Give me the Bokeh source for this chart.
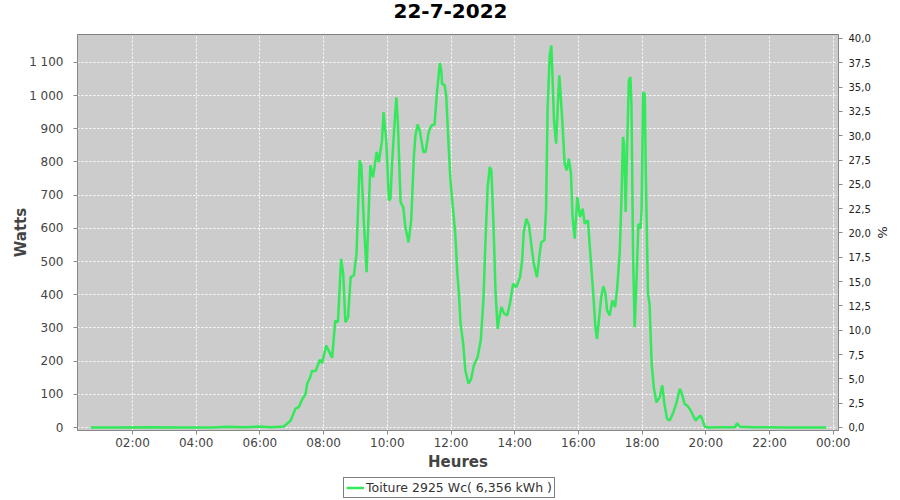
from bokeh.plotting import figure
from bokeh.layouts import column
from bokeh.models import Range1d, LinearAxis, FixedTicker, Legend, LegendItem, Title
from bokeh.embed import file_html
from bokeh.resources import INLINE

# ---- data ----
times = ["00:41", "01:30", "02:30", "03:30", "04:30", "05:00", "05:30", "06:00", "06:20", "06:45",
         "06:58", "07:07", "07:13", "07:20", "07:26", "07:29", "07:35", "07:38", "07:45", "07:53",
         "07:57", "08:05", "08:16", "08:22", "08:27", "08:33", "08:37", "08:41", "08:46", "08:51",
         "08:57", "09:02", "09:08", "09:11", "09:16", "09:21", "09:23", "09:28", "09:33", "09:40",
         "09:44", "09:50", "09:53", "09:58", "10:03", "10:06", "10:09", "10:14", "10:17", "10:20",
         "10:25", "10:30", "10:34", "10:40", "10:45", "10:50", "10:53", "10:57", "11:01", "11:08",
         "11:12", "11:18", "11:23", "11:29", "11:33", "11:39", "11:42", "11:43", "11:48", "11:51",
         "11:55", "11:59", "12:04", "12:08", "12:12", "12:15", "12:18", "12:23", "12:27", "12:33",
         "12:38", "12:43", "12:50", "12:56", "13:01", "13:05", "13:09", "13:13", "13:16", "13:20",
         "13:24", "13:28", "13:30", "13:35", "13:40", "13:46", "13:51", "13:57", "14:03", "14:10",
         "14:14", "14:17", "14:22", "14:27", "14:31", "14:36", "14:42", "14:47", "14:50", "14:56",
         "14:59", "15:02", "15:06", "15:09", "15:11", "15:14", "15:18", "15:21", "15:24", "15:26",
         "15:30", "15:34", "15:38", "15:42", "15:46", "15:49", "15:53", "15:58", "16:03", "16:08",
         "16:12", "16:18", "16:22", "16:28", "16:32", "16:35", "16:38", "16:43", "16:47", "16:51",
         "16:54", "16:59", "17:04", "17:09", "17:13", "17:18", "17:21", "17:24", "17:26", "17:29",
         "17:32", "17:35", "17:38", "17:40", "17:43", "17:46", "17:49", "17:53", "17:57", "17:59",
         "18:02", "18:05", "18:07", "18:11", "18:14", "18:18", "18:22", "18:27", "18:33", "18:38",
         "18:42", "18:47", "18:52", "18:59", "19:05", "19:11", "19:15", "19:20", "19:25", "19:31",
         "19:36", "19:41", "19:45", "19:50", "19:53", "19:58", "20:05", "20:30", "20:55", "20:59",
         "21:04", "21:30", "22:00", "22:30", "23:00", "23:47"]
watts = [0, 0, 1, 0, 0, 2, 1, 3, 1, 3,
         21, 57, 61, 86, 101, 132, 152, 170, 170, 204,
         194, 247, 210, 322, 317, 508, 463, 317, 332, 453,
         458, 523, 805, 790, 614, 468, 564, 790, 754, 830,
         800, 865, 950, 865, 684, 689, 795, 925, 995, 915,
         679, 664, 604, 558, 624, 815, 880, 913, 895, 830,
         830, 890, 910, 913, 1000, 1098, 1071, 1036, 1031, 1000,
         865, 744, 654, 584, 463, 403, 313, 252, 172, 132,
         147, 187, 212, 262, 383, 564, 724, 785, 775, 614,
         403, 297, 322, 363, 343, 338, 373, 433, 423, 453,
         503, 589, 629, 609, 554, 493, 453, 523, 558, 564,
         654, 965, 1121, 1151, 1066, 925, 855, 965, 1061, 1016,
         915, 795, 775, 810, 765, 634, 569, 694, 634, 659,
         614, 624, 533, 403, 302, 267, 313, 393, 425, 403,
         353, 338, 383, 363, 418, 533, 684, 875, 855, 649,
         855, 1046, 1056, 965, 513, 302, 423, 614, 599, 654,
         1010, 1005, 765, 403, 373, 192, 121, 76, 91, 127,
         71, 26, 21, 46, 76, 117, 101, 71, 66, 53,
         36, 21, 29, 36, 26, 3, 0, 1, 1, 13,
         2, 1, 1, 0, 0, 0]

hour_ticks = [2, 4, 6, 8, 10, 12, 14, 16, 18, 20, 22, 24]
hour_labels = ["02:00", "04:00", "06:00", "08:00", "10:00", "12:00",
               "14:00", "16:00", "18:00", "20:00", "22:00", "00:00"]
watt_ticks = [0, 100, 200, 300, 400, 500, 600, 700, 800, 900, 1000, 1100]
watt_labels = ["0", "100", "200", "300", "400", "500", "600", "700", "800", "900", "1 000", "1 100"]
pct_ticks = [0, 2.5, 5, 7.5, 10, 12.5, 15, 17.5, 20, 22.5, 25, 27.5, 30, 32.5, 35, 37.5, 40]
pct_labels = ["0,0", "2,5", "5,0", "7,5", "10,0", "12,5", "15,0", "17,5", "20,0", "22,5",
              "25,0", "27,5", "30,0", "32,5", "35,0", "37,5", "40,0"]

title_text = "22-7-2022"
series_label = "Toiture 2925 Wc( 6,356 kWh )"

hours = [int(t[:2]) + int(t[3:]) / 60 for t in times]

FONT = "DejaVu Sans"
GREEN = "#33e85a"

p = figure(width=900, height=474, output_backend="svg", toolbar_location=None,
           x_range=Range1d(0.273, 24.166), y_range=Range1d(-9, 1184),
           min_border_left=77, min_border_right=62, min_border_top=34, min_border_bottom=44)
p.extra_y_ranges = {"pct": Range1d(-0.31, 40.41)}

p.title.text = title_text
p.title.align = "left"
p.title.offset = 316
p.title.vertical_align = "bottom"
p.title.text_font = FONT
p.title.text_font_size = "20px"
p.title.text_font_style = "bold"
p.title.text_color = "#000000"
p.title.standoff = 0
# empty spacer between the title and the plot area
p.add_layout(Title(text=" ", text_font_size="10px", standoff=4), "above")

p.background_fill_color = "#cccccc"
p.border_fill_color = "#ffffff"
p.outline_line_color = "#808080"
p.outline_line_width = 1

# grid
p.xgrid.grid_line_color = "#ffffff"
p.ygrid.grid_line_color = "#ffffff"
p.xgrid.grid_line_dash = "2 2"
p.ygrid.grid_line_dash = "2 2"
p.xgrid.grid_line_width = 1
p.ygrid.grid_line_width = 1

# x axis
xa = p.xaxis[0]
xa.ticker = FixedTicker(ticks=hour_ticks)
xa.major_label_overrides = dict(zip(hour_ticks, hour_labels))
xa.axis_label = "Heures"
# y axis
ya = p.yaxis[0]
ya.ticker = FixedTicker(ticks=watt_ticks)
ya.major_label_overrides = dict(zip(watt_ticks, watt_labels))
ya.axis_label = "Watts"

for ax in (xa, ya):
    ax.axis_line_color = "#888888"
    ax.major_tick_line_color = "#888888"
    ax.major_tick_out = 4
    ax.major_tick_in = 0
    ax.minor_tick_line_color = None
    ax.major_label_text_font = FONT
    ax.major_label_text_font_size = "12px"
    ax.major_label_text_color = "#444444"
    ax.axis_label_text_font = FONT
    ax.axis_label_text_font_size = "15px"
    ax.axis_label_text_font_style = "bold"
    ax.axis_label_text_color = "#444444"
xa.major_label_standoff = 1
xa.axis_label_standoff = 0
ya.major_label_standoff = 10
ya.axis_label_standoff = -4

ra = LinearAxis(y_range_name="pct", ticker=FixedTicker(ticks=pct_ticks))
ra.major_label_overrides = dict(zip(pct_ticks, pct_labels))
ra.axis_label = "%"
ra.axis_line_color = "#888888"
ra.major_tick_line_color = "#888888"
ra.major_tick_out = 4
ra.major_tick_in = 0
ra.minor_tick_line_color = None
ra.major_label_text_font = FONT
ra.major_label_text_font_size = "10px"
ra.major_label_text_color = "#222222"
ra.major_label_standoff = 6
ra.axis_label_text_font = FONT
ra.axis_label_text_font_size = "13px"
ra.axis_label_text_font_style = "normal"
ra.axis_label_text_color = "#222222"
ra.axis_label_standoff = 1
p.add_layout(ra, "right")

p.line(hours, watts, line_color=GREEN, line_width=2.5)

# legend strip below the chart (its frame is aligned with the chart's frame)
lg = figure(width=900, height=26, output_backend="svg", toolbar_location=None,
            x_range=Range1d(-100, -99), y_range=Range1d(-100, -99),
            x_axis_location=None, y_axis_location=None,
            min_border=0, outline_line_color=None)
lg.grid.visible = False
lr = lg.line(hours, watts, line_color=GREEN, line_width=2.5)
legend = Legend(items=[LegendItem(label=series_label, renderers=[lr])],
                location=(266, 2), orientation="horizontal")
legend.border_line_color = "#000000"
legend.border_line_width = 1
legend.background_fill_color = "#ffffff"
legend.label_text_font = FONT
legend.label_text_font_size = "12.5px"
legend.label_text_color = "#333333"
legend.glyph_width = 18
legend.glyph_height = 13
legend.label_height = 13
legend.label_standoff = 2
legend.padding = 2
legend.margin = 0
legend.spacing = 0
lg.add_layout(legend)

open("out.html", "w").write(file_html(column(p, lg), INLINE))
